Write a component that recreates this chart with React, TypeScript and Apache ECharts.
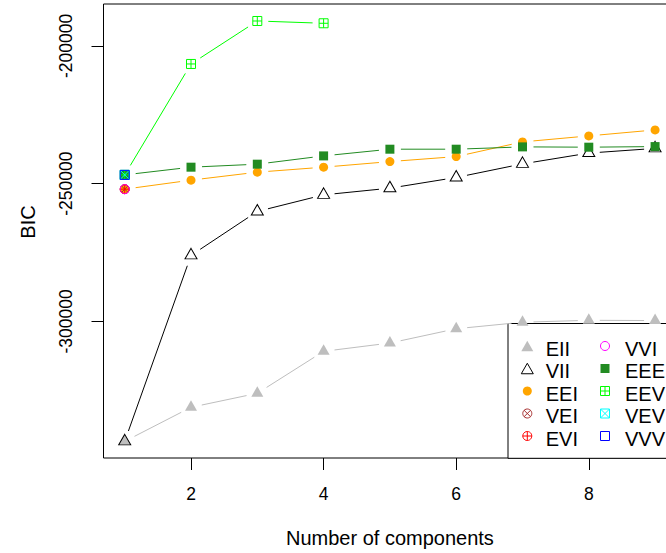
import React, { useEffect, useRef } from "react";
import * as echarts from "echarts";

// ---- data (BIC values) ----
const components = [1, 2, 3, 4, 5, 6, 7, 8, 9];
const EII = [-343560, -331190, -326110, -310870, -307860, -302670, -300300, -299600, -299700];
const VII = [-343560, -276040, -260080, -254060, -251630, -247740, -242810, -238890, -237190];
const EEI = [-251990, -248720, -245820, -244010, -241980, -240160, -234830, -232650, -230480];
const VEI = [-251990, null, null, null, null, null, null, null, null];
const EVI = [-251990, null, null, null, null, null, null, null, null];
const VVI = [-251990, null, null, null, null, null, null, null, null];
const EEE = [-246800, -244010, -242920, -239910, -237480, -237480, -236640, -236750, -236530];
const EEV = [-246800, -206530, -190930, -191760, null, null, null, null, null];
const VEV = [-246800, null, null, null, null, null, null, null, null];
const VVV = [-246800, null, null, null, null, null, null, null, null];

const modelNames = ["EII", "VII", "EEI", "VEI", "EVI", "VVI", "EEE", "EEV", "VEV", "VVV"];
const modelValues = [EII, VII, EEI, VEI, EVI, VVI, EEE, EEV, VEV, VVV];
const xTicks = [2, 4, 6, 8];
const yTicks = [-300000, -250000, -200000];

// ---- styles ----
const FONT = "'Liberation Sans', Arial, Helvetica, sans-serif";
const circleX = "path://M0 10 A10 10 0 1 1 20 10 A10 10 0 1 1 0 10 Z M2.93 2.93 L17.07 17.07 M17.07 2.93 L2.93 17.07";
const circlePlus = "path://M0 10 A10 10 0 1 1 20 10 A10 10 0 1 1 0 10 Z M10 0 L10 20 M0 10 L20 10";
const squarePlus = "path://M0 0 L20 0 L20 20 L0 20 Z M10 0 L10 20 M0 10 L20 10";
const squareX = "path://M0 0 L20 0 L20 20 L0 20 Z M0 0 L20 20 M20 0 L0 20";

type Sty = { color: string; kind: string; filled: boolean };
const styles: Sty[] = [
  { color: "#BEBEBE", kind: "tri", filled: true },
  { color: "#000000", kind: "tri", filled: false },
  { color: "#FFA500", kind: "circle", filled: true },
  { color: "#A52A2A", kind: "circleX", filled: false },
  { color: "#FF0000", kind: "circlePlus", filled: false },
  { color: "#FF00FF", kind: "circle", filled: false },
  { color: "#228B22", kind: "square", filled: true },
  { color: "#00FF00", kind: "squarePlus", filled: false },
  { color: "#00FFFF", kind: "squareX", filled: false },
  { color: "#0000FF", kind: "square", filled: false },
];

function symbolFor(kind: string) {
  switch (kind) {
    case "tri": return { symbol: "triangle", size: [12, 10.5], offset: [0, -1.75] };
    case "circle": return { symbol: "circle", size: 9, offset: [0, 0] };
    case "square": return { symbol: "rect", size: 9, offset: [0, 0] };
    case "circleX": return { symbol: circleX, size: 9, offset: [0, 0] };
    case "circlePlus": return { symbol: circlePlus, size: 9, offset: [0, 0] };
    case "squarePlus": return { symbol: squarePlus, size: 9, offset: [0, 0] };
    case "squareX": return { symbol: squareX, size: 9, offset: [0, 0] };
  }
  return { symbol: "circle", size: 9, offset: [0, 0] };
}

function legendSymbol(kind: string, color: string, filled: boolean, x: number, y: number) {
  const fill = filled ? color : "none";
  const stroke = filled ? "none" : color;
  const s = { fill, stroke, lineWidth: 1 };
  const ln = (x1: number, y1: number, x2: number, y2: number) => ({
    type: "line", shape: { x1, y1, x2, y2 }, style: { stroke: color, lineWidth: 1 },
  });
  switch (kind) {
    case "tri":
      return [{ type: "polygon", shape: { points: [[x, y - 5.25], [x + 6, y + 5.25], [x - 6, y + 5.25]] }, style: s }];
    case "circle":
      return [{ type: "circle", shape: { cx: x, cy: y, r: 4.5 }, style: s }];
    case "square":
      return [{ type: "rect", shape: { x: x - 4.5, y: y - 4.5, width: 9, height: 9 }, style: s }];
    case "circleX":
      return [
        { type: "circle", shape: { cx: x, cy: y, r: 4.5 }, style: s },
        ln(x - 3.2, y - 3.2, x + 3.2, y + 3.2), ln(x + 3.2, y - 3.2, x - 3.2, y + 3.2),
      ];
    case "circlePlus":
      return [
        { type: "circle", shape: { cx: x, cy: y, r: 4.5 }, style: s },
        ln(x - 4.5, y, x + 4.5, y), ln(x, y - 4.5, x, y + 4.5),
      ];
    case "squarePlus":
      return [
        { type: "rect", shape: { x: x - 4.5, y: y - 4.5, width: 9, height: 9 }, style: s },
        ln(x - 4.5, y, x + 4.5, y), ln(x, y - 4.5, x, y + 4.5),
      ];
    case "squareX":
      return [
        { type: "rect", shape: { x: x - 4.5, y: y - 4.5, width: 9, height: 9 }, style: s },
        ln(x - 4.5, y - 4.5, x + 4.5, y + 4.5), ln(x + 4.5, y - 4.5, x - 4.5, y + 4.5),
      ];
  }
  return [];
}

const GAP = 11;

export default function App() {
  const ref = useRef<HTMLDivElement>(null);
  useEffect(() => {
    if (!ref.current) return;
    const chart = echarts.init(ref.current, null, { renderer: "svg" });

    const series: any[] = [];
    // connecting lines, with gaps around points (R type = "b")
    modelNames.forEach((name, i) => {
      const vals = modelValues[i];
      const segs: number[][] = [];
      for (let k = 0; k < components.length - 1; k++) {
        if (vals[k] != null && vals[k + 1] != null) {
          segs.push([components[k], vals[k] as number, components[k + 1], vals[k + 1] as number]);
        }
      }
      const color = styles[i].color;
      series.push({
        type: "custom",
        name: name + " line",
        silent: true,
        data: segs,
        encode: { x: [0, 2], y: [1, 3] },
        renderItem: (params: any, api: any) => {
          const p1 = api.coord([api.value(0), api.value(1)]);
          const p2 = api.coord([api.value(2), api.value(3)]);
          const dx = p2[0] - p1[0];
          const dy = p2[1] - p1[1];
          const L = Math.hypot(dx, dy);
          if (L <= 2 * GAP) return null;
          const ux = dx / L, uy = dy / L;
          return {
            type: "line",
            shape: { x1: p1[0] + ux * GAP, y1: p1[1] + uy * GAP, x2: p2[0] - ux * GAP, y2: p2[1] - uy * GAP },
            style: { stroke: color, lineWidth: 1 },
          };
        },
      });
    });
    // points
    modelNames.forEach((name, i) => {
      const vals = modelValues[i];
      const st = styles[i];
      const sym = symbolFor(st.kind);
      const data = components.map((c, k) => [c, vals[k]]).filter((d) => d[1] != null);
      series.push({
        type: "scatter",
        name,
        silent: true,
        data,
        symbol: sym.symbol,
        symbolSize: sym.size,
        symbolOffset: sym.offset,
        itemStyle: st.filled
          ? { color: st.color, borderWidth: 0, opacity: 1 }
          : { color: "rgba(0,0,0,0)", borderColor: st.color, borderWidth: 1, opacity: 1 },
        emphasis: { disabled: true },
      });
    });

    // legend drawn as graphic
    const legendChildren: any[] = [
      {
        type: "rect",
        shape: { x: 508, y: 323.5, width: 220, height: 458.3 - 323.5 },
        style: { fill: "#ffffff", stroke: "#000000", lineWidth: 1 },
      },
    ];
    modelNames.forEach((name, i) => {
      const col = i < 5 ? 0 : 1;
      const row = i % 5;
      const sx = col === 0 ? 527.3 : 605;
      const tx = col === 0 ? 545.7 : 625;
      const sy = 346 + row * 22.5;
      legendChildren.push(...legendSymbol(styles[i].kind, styles[i].color, styles[i].filled, sx, sy));
      legendChildren.push({
        type: "text",
        x: tx,
        y: sy + 2.5,
        style: { text: name, fill: "#000", font: `20px ${FONT}`, textVerticalAlign: "middle", textAlign: "left" },
      });
    });

    chart.setOption({
      animation: false,
      backgroundColor: "#ffffff",
      grid: {
        left: 103.5,
        top: 4,
        right: 23.7,
        bottom: 94.7,
        show: true,
        borderColor: "#000000",
        borderWidth: 1,
        backgroundColor: "transparent",
      },
      xAxis: {
        type: "value",
        min: 0.68,
        max: 9.32,
        name: "Number of components",
        nameLocation: "middle",
        nameGap: 70,
        nameTextStyle: { fontFamily: FONT, fontSize: 20, color: "#000" },
        axisLine: { show: false },
        splitLine: { show: false },
        axisTick: { show: true, customValues: xTicks, length: 12, inside: false, lineStyle: { color: "#000", width: 1 } },
        axisLabel: { customValues: xTicks, margin: 27, fontFamily: FONT, fontSize: 17.5, color: "#000", formatter: (v: number) => String(v) },
      },
      yAxis: {
        type: "value",
        min: -349600,
        max: -184760,
        name: "BIC",
        nameLocation: "middle",
        nameGap: 66,
        nameRotate: 90,
        nameTextStyle: { fontFamily: FONT, fontSize: 20, color: "#000", padding: [0, 0, 0, 18] },
        axisLine: { show: false },
        splitLine: { show: false },
        axisTick: { show: true, customValues: yTicks, length: 12, inside: false, lineStyle: { color: "#000", width: 1 } },
        axisLabel: { customValues: yTicks, rotate: 90, margin: 29, fontFamily: FONT, fontSize: 17.5, color: "#000", formatter: (v: number) => String(v) },
      },
      graphic: [{ type: "group", z: 100, children: legendChildren }],
      series,
    });
    return () => chart.dispose();
  }, []);

  return (
    <div style={{ position: "fixed", left: 0, top: 0, width: 666, height: 553, overflow: "hidden", background: "#fff" }}>
      <div ref={ref} style={{ width: 700, height: 553 }} />
    </div>
  );
}
